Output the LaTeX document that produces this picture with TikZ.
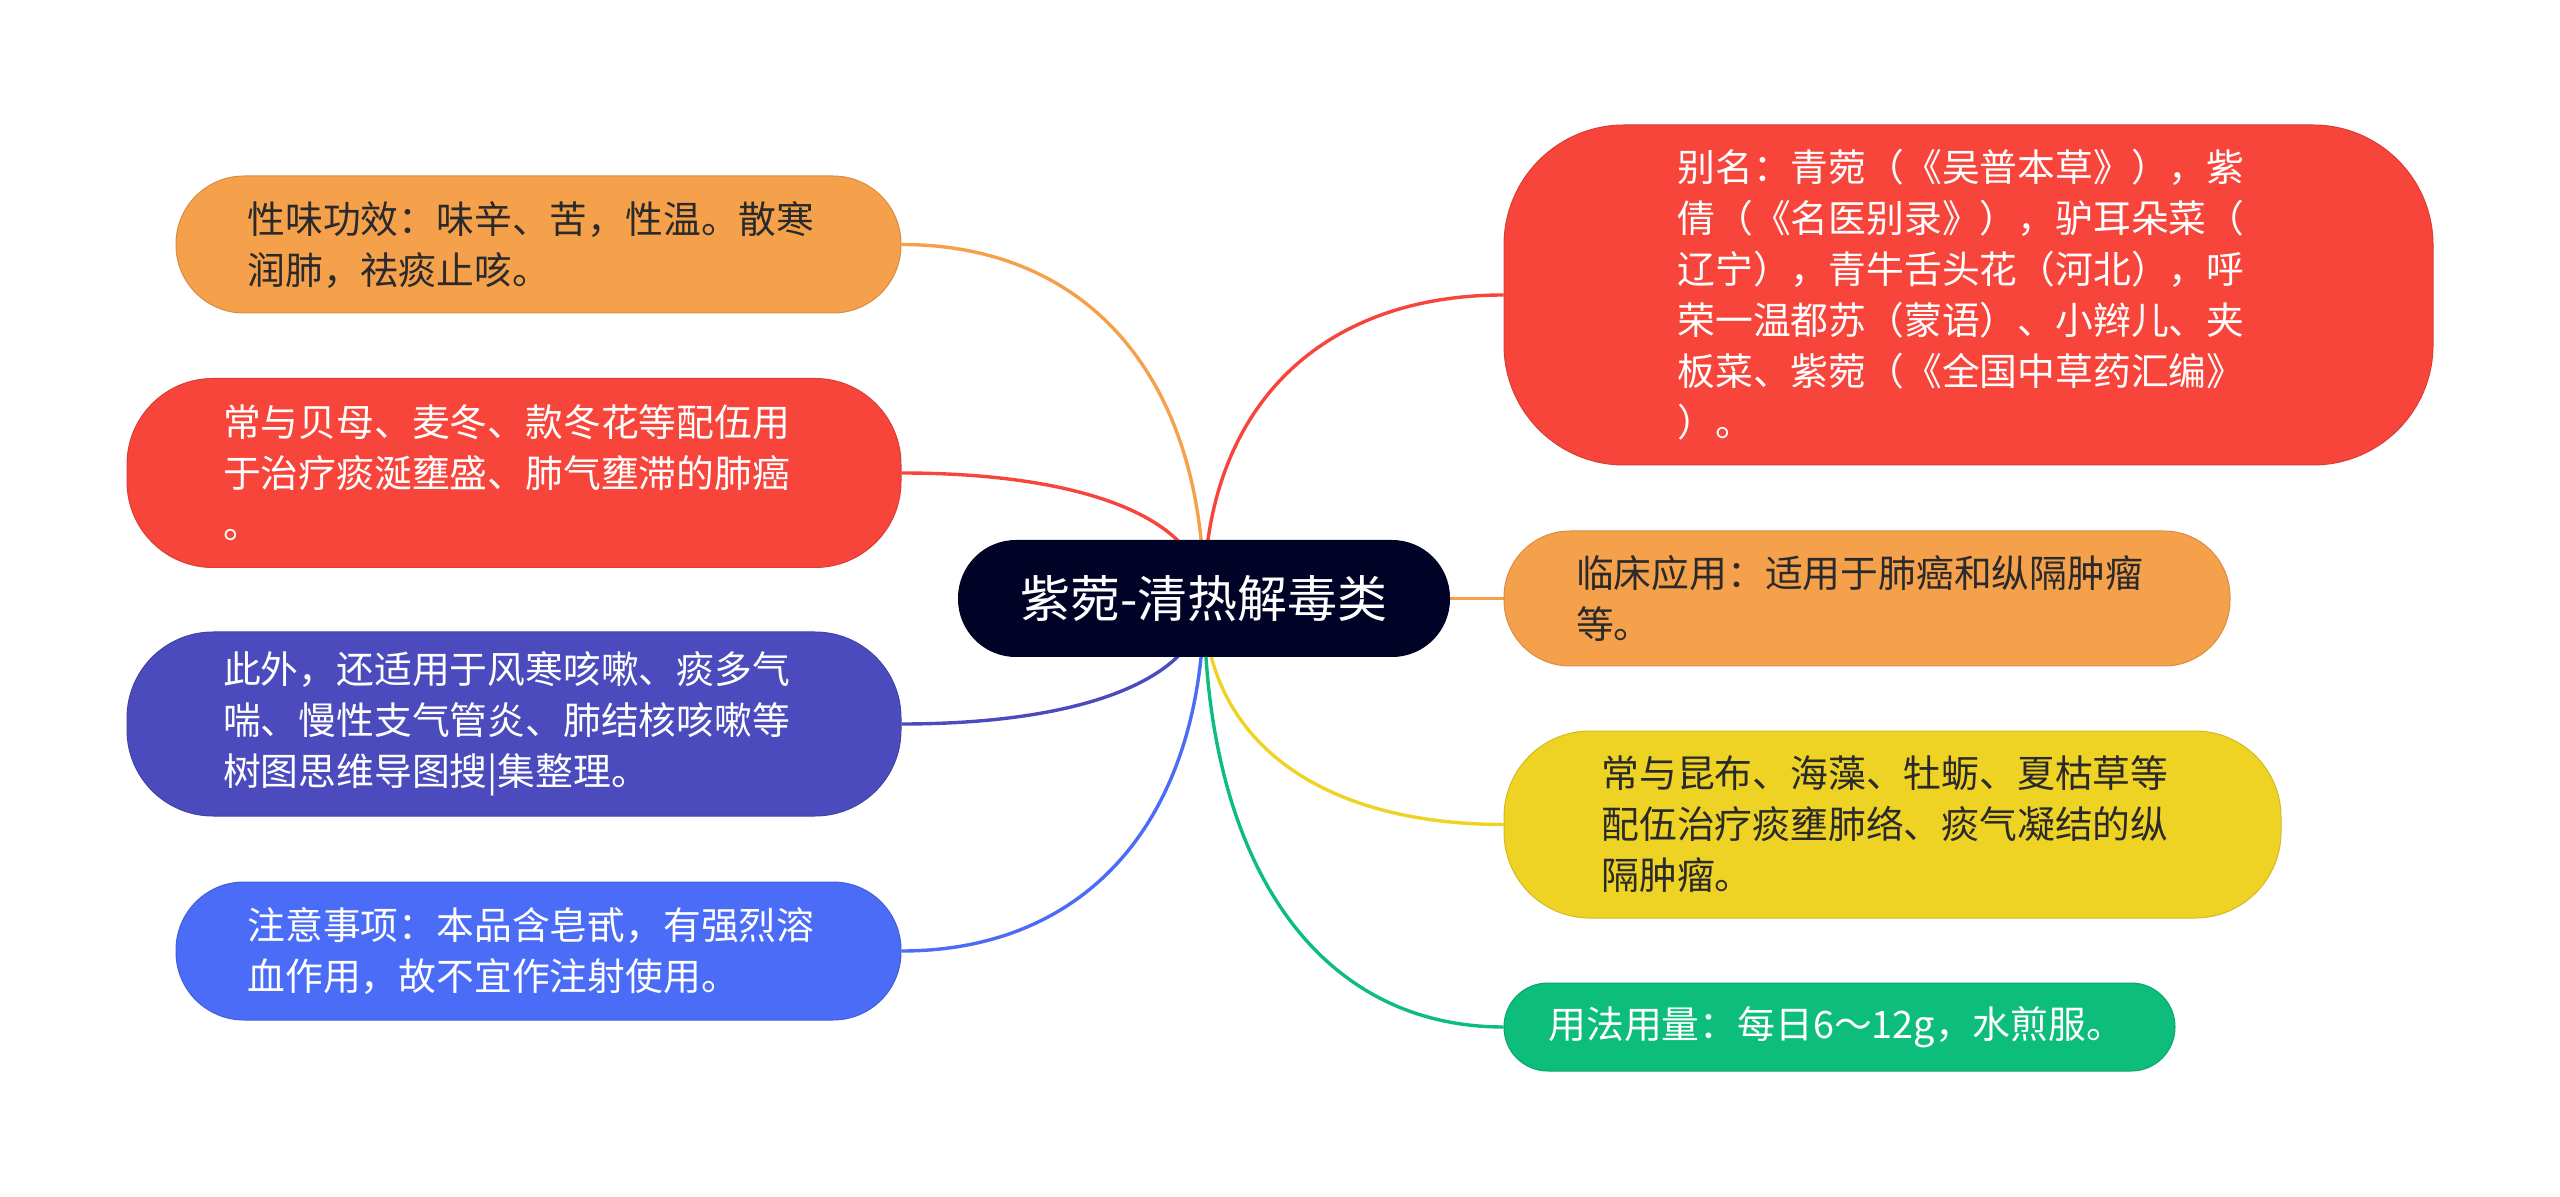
\documentclass[tikz,border=0pt]{standalone}
\usepackage{fontspec}
\setmainfont{Noto Sans CJK SC}
\usetikzlibrary{backgrounds,calc}
\definecolor{cOrange}{HTML}{F5A04B}
\definecolor{cRed}{HTML}{F7453C}
\definecolor{cIndigo}{HTML}{4B4BBE}
\definecolor{cBlue}{HTML}{4A6CF7}
\definecolor{cYellow}{HTML}{EFD324}
\definecolor{cGreen}{HTML}{0CBD7B}
\definecolor{cRoot}{HTML}{010326}
\definecolor{cInk}{HTML}{2A2A2A}

\begin{document}
\begin{tikzpicture}[x=0.5pt, y=-0.5pt,
  every node/.style={font=\fontsize{18.9}{25.5}\selectfont},
  leaf/.style={draw=#1!88!black, fill=#1, line width=0.5pt, align=left, text width=291pt, inner sep=0pt},
  hub/.style={fill=cRoot, text=white, rounded corners=29pt, minimum width=246pt, minimum height=58.5pt, inner sep=0pt, font=\fontsize{25}{30}\selectfont},
  conn/.style={line width=1.7pt, draw=#1},
  branch/.style={to path={.. controls ($(\tikztostart)!0.62!(\tikztostart |- \tikztotarget)$) and ($(\tikztotarget)!0.62!(\tikztostart |- \tikztotarget)$) .. (\tikztotarget)}}]
  \useasboundingbox (0,0) rectangle (2560,1197);
  \node[hub] (root) at (1204,598.5) {紫菀-清热解毒类};
  % left side
  \node[leaf=cOrange, text=cInk, minimum width=362.5pt, minimum height=68.5pt, rounded corners=34pt] (n1) at (538.5,244.5) {性味功效：味辛、苦，性温。散寒\\润肺，祛痰止咳。};
  \node[leaf=cRed, text=white, minimum width=387pt, minimum height=94.5pt, rounded corners=43pt] (n2) at (514,473) {常与贝母、麦冬、款冬花等配伍用\\于治疗痰涎壅盛、肺气壅滞的肺癌\\。};
  \node[leaf=cIndigo, text=white, minimum width=387pt, minimum height=92pt, rounded corners=43pt] (n3) at (514,724) {此外，还适用于风寒咳嗽、痰多气\\喘、慢性支气管炎、肺结核咳嗽等\\树图思维导图搜|集整理。};
  \node[leaf=cBlue, text=white, minimum width=362.5pt, minimum height=69pt, rounded corners=34pt] (n4) at (538.5,951) {注意事项：本品含皂甙，有强烈溶\\血作用，故不宜作注射使用。};
  % right side
  \node[leaf=cRed, text=white, minimum width=464.5pt, minimum height=170pt, rounded corners=60pt] (n5) at (1968.5,295) {别名：青菀（《吴普本草》），紫\\倩（《名医别录》），驴耳朵菜（\\辽宁），青牛舌头花（河北），呼\\荣一温都苏（蒙语）、小辫儿、夹\\板菜、紫菀（《全国中草药汇编》\\）。};
  \node[leaf=cOrange, text=cInk, minimum width=363pt, minimum height=67.5pt, rounded corners=33pt] (n6) at (1867,598.5) {临床应用：适用于肺癌和纵隔肿瘤\\等。};
  \node[leaf=cYellow, text=cInk, minimum width=388.5pt, minimum height=93.5pt, rounded corners=43pt] (n7) at (1892.5,824.5) {常与昆布、海藻、牡蛎、夏枯草等\\配伍治疗痰壅肺络、痰气凝结的纵\\隔肿瘤。};
  \node[leaf=cGreen, text=white, minimum width=335.5pt, minimum height=44pt, rounded corners=21.9pt] (n8) at (1839.5,1027) {用法用量：每日6～12g，水煎服。};
  % branches
  \begin{pgfonlayer}{background}
    \draw[conn=cOrange] (root.center) to[branch] (n1.east);
    \draw[conn=cRed] (root.center) to[branch] (n2.east);
    \draw[conn=cIndigo] (root.center) to[branch] (n3.east);
    \draw[conn=cBlue] (root.center) to[branch] (n4.east);
    \draw[conn=cRed] (root.center) to[branch] (n5.west);
    \draw[conn=cOrange] (root.center) -- (n6.west);
    \draw[conn=cYellow] (root.center) to[branch] (n7.west);
    \draw[conn=cGreen] (root.center) to[branch] (n8.west);
  \end{pgfonlayer}
\end{tikzpicture}
\end{document}
